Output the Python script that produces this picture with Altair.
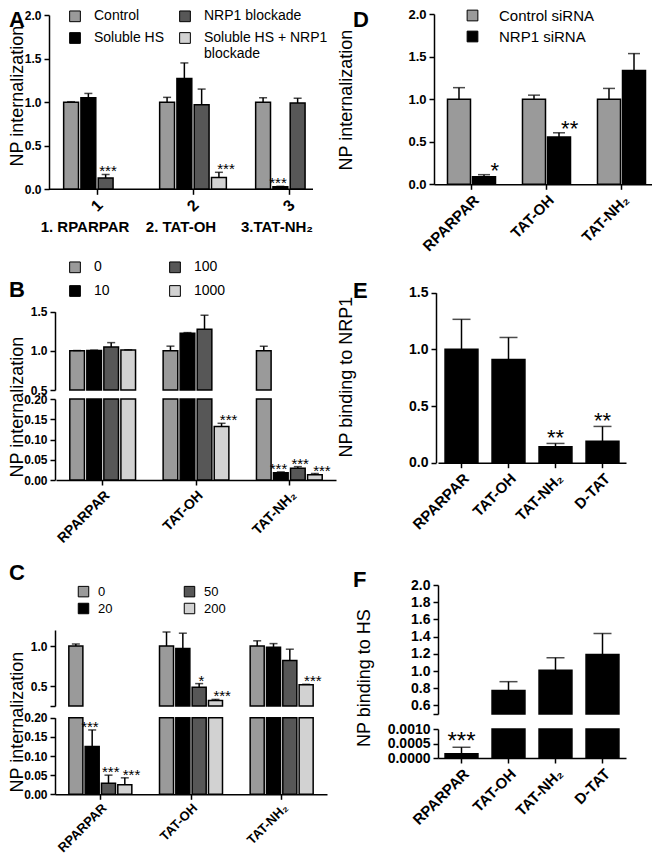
import altair as alt
import pandas as pd

FONT = "Liberation Sans"
W, H = 644, 848

# ---------------- data ----------------
A_categories = ["1", "2", "3"]
A_names = ["1. RPARPAR", "2. TAT-OH", "3.TAT-NH\u2082"]
A_series = ["Control", "Soluble HS", "NRP1 blockade", "Soluble HS + NRP1 blockade"]
A_mean = {
    "Control": [1.00, 1.00, 1.00],
    "Soluble HS": [1.05, 1.27, 0.03],
    "NRP1 blockade": [0.13, 0.97, 0.99],
    "Soluble HS + NRP1 blockade": [None, 0.135, None],
}
A_sem = {
    "Control": [0.005, 0.055, 0.05],
    "Soluble HS": [0.05, 0.18, 0.004],
    "NRP1 blockade": [0.04, 0.18, 0.055],
    "Soluble HS + NRP1 blockade": [None, 0.06, None],
}
A_sig = {
    "Control": ["", "", ""],
    "Soluble HS": ["", "", "***"],
    "NRP1 blockade": ["***", "", ""],
    "Soluble HS + NRP1 blockade": ["", "***", ""],
}

B_categories = ["RPARPAR", "TAT-OH", "TAT-NH\u2082"]
B_series = ["0", "10", "100", "1000"]
B_mean = {"0": [1.00, 1.00, 1.00], "10": [1.005, 1.225, 0.018],
          "100": [1.05, 1.275, 0.029], "1000": [1.01, 0.132, 0.013]}
B_sem = {"0": [0.004, 0.06, 0.06], "10": [0.004, 0.008, 0.002],
         "100": [0.055, 0.18, 0.004], "1000": [0.003, 0.008, 0.003]}
B_sig = {"0": ["", "", ""], "10": ["", "", "***"],
         "100": ["", "", "***"], "1000": ["", "***", "***"]}

C_categories = ["RPARPAR", "TAT-OH", "TAT-NH\u2082"]
C_series = ["0", "20", "50", "200"]
C_mean = {"0": [1.00, 1.00, 1.00], "20": [0.125, 0.97, 0.985],
          "50": [0.029, 0.485, 0.82], "200": [0.025, 0.32, 0.515]}
C_sem = {"0": [0.025, 0.175, 0.065], "20": [0.043, 0.19, 0.045],
         "50": [0.021, 0.045, 0.14], "200": [0.018, 0.012, 0.006]}
C_sig = {"0": ["", "", ""], "20": ["***", "", ""],
         "50": ["***", "*", ""], "200": ["***", "***", "***"]}

D_categories = ["RPARPAR", "TAT-OH", "TAT-NH\u2082"]
D_series = ["Control siRNA", "NRP1 siRNA"]
D_mean = {"Control siRNA": [1.00, 1.00, 1.00], "NRP1 siRNA": [0.088, 0.555, 1.335]}
D_sem = {"Control siRNA": [0.135, 0.047, 0.126], "NRP1 siRNA": [0.025, 0.05, 0.2]}
D_sig = {"Control siRNA": ["", "", ""], "NRP1 siRNA": ["*", "**", ""]}

E_categories = ["RPARPAR", "TAT-OH", "TAT-NH\u2082", "D-TAT"]
E_mean = [1.00, 0.91, 0.14, 0.19]
E_sem = [0.265, 0.195, 0.03, 0.13]
E_sig = ["", "", "**", "**"]

F_categories = ["RPARPAR", "TAT-OH", "TAT-NH\u2082", "D-TAT"]
F_mean = [0.00015, 0.772, 1.008, 1.193]
F_sem = [0.00022, 0.104, 0.146, 0.243]
F_sig = ["***", "", "", ""]

y_titles = ["NP internalization", "NP internalization", "NP internalization",
            "NP internalization", "NP binding to NRP1", "NP binding to HS"]
panel_letters = ["A", "B", "C", "D", "E", "F"]

GREY, BLACK, DARK, LIGHT = "#9a9a9a", "#000000", "#575757", "#d2d2d2"


def long_df(cats, series, mean, sem, sig):
    rows = []
    for s in series:
        for c, m, e, t in zip(cats, mean[s], sem[s], sig[s]):
            if m is None:
                continue
            rows.append({"cat": c, "series": s, "mean": m, "top": m + e, "sig": t})
    return pd.DataFrame(rows)


def single_df(cats, mean, sem, sig):
    return pd.DataFrame({"cat": cats, "mean": mean,
                         "top": [m + e for m, e in zip(mean, sem)], "sig": sig})


def panel(df, cats, xr, x_pad, segs, y_x, x_y, cap, sig_size, sig_dy, xaxis, ylab,
          series=None, fill_range=None, off_pad=0.14, legend=None, x_domain=True):
    layers = []
    xscale = alt.Scale(domain=cats, range=xr, paddingInner=x_pad, paddingOuter=x_pad / 2)
    off = {}
    if series is not None:
        off["xOffset"] = alt.XOffset("series:N", scale=alt.Scale(
            domain=series, paddingInner=off_pad, paddingOuter=off_pad / 2))
    for i, seg in enumerate(segs):
        lo, hi = seg["domain"]
        last = i == len(segs) - 1
        ysc = alt.Scale(domain=[lo, hi], range=seg["range"], clamp=True, nice=False, zero=False)
        ax_kw = dict(orient="left", offset=-y_x, values=seg["ticks"], format=seg["fmt"], title=None,
                     labelFontSize=ylab, labelFontWeight="bold")
        if seg.get("hide") is not None:
            ax_kw["labelExpr"] = f"datum.value == {seg['hide']} ? '' : datum.label"
        x_ax = None
        if last:
            x_ax = alt.Axis(orient="bottom", offset=x_y - H, title=None, domain=x_domain,
                            labelFontWeight="bold", **xaxis)
        enc = dict(x=alt.X("cat:N", scale=xscale, axis=x_ax),
                   y=alt.Y("mean:Q", scale=ysc, axis=alt.Axis(**ax_kw)),
                   y2=alt.Y2("base"), **off)
        src = alt.Chart(df).transform_filter(f"datum.mean > {lo}").transform_calculate(base=f"{lo}")
        if series is not None:
            enc["fill"] = alt.Fill("series:N", scale=alt.Scale(domain=series, range=fill_range),
                                   legend=legend if i == 0 else None)
            bar = src.mark_bar(stroke="black", strokeWidth=1.5).encode(**enc)
        else:
            bar = src.mark_bar(fill="black", stroke="black", strokeWidth=1.5).encode(**enc)
        layers.append(bar)

        inside = f"datum.mean >= {lo} && datum.mean < {hi}"
        xn = alt.X("cat:N", scale=xscale, axis=None)
        err_src = alt.Chart(df).transform_filter(inside + " && datum.top > datum.mean")
        layers.append(err_src.mark_rule(color="black", strokeWidth=1.5).encode(
            x=xn, y=alt.Y("mean:Q", scale=ysc, axis=None), y2=alt.Y2("top"), **off))
        layers.append(err_src.mark_tick(color="black", thickness=1.5, size=cap).encode(
            x=xn, y=alt.Y("top:Q", scale=ysc, axis=None), **off))
        layers.append(alt.Chart(df).transform_filter(inside + " && datum.sig != ''").mark_text(
            font=FONT, fontSize=sig_size, baseline="alphabetic", dy=sig_dy, fill="black").encode(
            x=xn, y=alt.Y("top:Q", scale=ysc, axis=None), text="sig:N", **off))
    return layers, xscale


def rot(size, pad=3):
    return dict(labelAngle=-45, labelAlign="right", labelBaseline="top", labelFontSize=size, labelPadding=pad)


def legend(x, y, cols, size, offset, colpad, rowpad, sym=115, expr=None):
    kw = dict(orient="none", legendX=x, legendY=y, columns=cols, title=None,
              symbolType="square", symbolSize=sym, symbolStrokeColor="black", symbolStrokeWidth=1,
              labelFont=FONT, labelFontSize=size, labelColor="black", labelOffset=offset,
              columnPadding=colpad, rowPadding=rowpad, labelLimit=400)
    if expr:
        kw["labelExpr"] = expr
    return alt.Legend(**kw)


FILL4 = [GREY, BLACK, DARK, LIGHT]
layers = []

# ---- A ----
legA = legend(60, 1, 2, 14, 12, 12, 6,
              expr="datum.label == 'Soluble HS + NRP1 blockade' ? ['Soluble HS + NRP1', 'blockade'] : datum.label")
la, xsA = panel(long_df(A_categories, A_series, A_mean, A_sem, A_sig), A_categories, [41, 329], 0.28,
                [{"domain": [0, 2], "range": [181.3, 7], "ticks": [0, 0.5, 1.0, 1.5, 2.0], "fmt": ".1f"}],
                41, 181.3, 8, 15, 2,
                dict(labelAngle=-45, labelAlign="center", labelBaseline="middle", labelFontSize=16, labelPadding=11),
                12, series=A_series, fill_range=FILL4, legend=legA, x_domain=False)
layers += la
layers.append(alt.Chart(pd.DataFrame({"v": [0]})).mark_rule(color="black", strokeWidth=1.5).encode(
    x=alt.value(41), x2=alt.value(305), y=alt.value(181.3)))
layers.append(alt.Chart(pd.DataFrame({"cat": A_categories, "name": A_names})).mark_text(
    font=FONT, fontSize=15, fontWeight="bold", dx=-12, fill="black").encode(
    x=alt.X("cat:N", scale=xsA, axis=None), y=alt.value(219), text="name:N"))

# ---- B ----
legB = legend(60, 252, 2, 14, 12, 57, 8)
lb, _ = panel(long_df(B_categories, B_series, B_mean, B_sem, B_sig), B_categories, [48, 328], 0.27,
              [{"domain": [0.5, 1.5], "range": [382, 303.7], "ticks": [0.5, 1.0, 1.5], "fmt": ".1f"},
               {"domain": [0, 0.2], "range": [472, 391], "ticks": [0, 0.05, 0.10, 0.15, 0.20], "fmt": ".2f"}],
              47, 472, 8, 15, 2, rot(14), 12, series=B_series, fill_range=FILL4, legend=legB)
layers += lb

# ---- C ----
legC = legend(69, 577, 2, 13, 8, 69, 2, sym=110)
lc, _ = panel(long_df(C_categories, C_series, C_mean, C_sem, C_sig), C_categories, [47, 319], 0.28,
              [{"domain": [0.25, 1.2], "range": [698, 622], "ticks": [0.25, 0.5, 1.0], "fmt": ".1f", "hide": 0.25},
               {"domain": [0, 0.2], "range": [786.3, 709.7], "ticks": [0, 0.05, 0.10, 0.15, 0.20], "fmt": ".2f"}],
              47, 786.3, 8, 15, 2, rot(13, 2), 12, series=C_series, fill_range=FILL4, legend=legC)
layers += lc

# ---- D ----
legD = legend(457, 0, 1, 15, 19, 10, 5)
ld, _ = panel(long_df(D_categories, D_series, D_mean, D_sem, D_sig), D_categories, [426, 651], 0.333,
              [{"domain": [0, 2], "range": [176.3, 6], "ticks": [0, 0.5, 1.0, 1.5, 2.0], "fmt": ".1f"}],
              426, 176.3, 12, 22, 3, rot(15), 13, series=D_series,
              fill_range=[GREY, BLACK], off_pad=0.08, legend=legD)
layers += ld

# ---- E ----
le, _ = panel(single_df(E_categories, E_mean, E_sem, E_sig), E_categories, [430, 618], 0.3,
              [{"domain": [0, 1.5], "range": [454.7, 284.7], "ticks": [0, 0.5, 1.0, 1.5], "fmt": ".1f"}],
              428, 454.7, 18, 22, 2, rot(15), 14)
layers += le

# ---- F ----
lf, _ = panel(single_df(F_categories, F_mean, F_sem, F_sig), F_categories, [430, 618], 0.3,
              [{"domain": [0.5, 2.0], "range": [706, 577],
                "ticks": [0.5, 0.6, 0.8, 1.0, 1.2, 1.4, 1.6, 1.8, 2.0], "fmt": ".1f", "hide": 0.5},
               {"domain": [0, 0.001], "range": [750, 721], "ticks": [0, 0.0005, 0.001], "fmt": ".4f"}],
              430, 750, 18, 24, 2, rot(15), 14)
layers += lf

# ---- y titles and panel letters ----
title_xy = [(10, 88), (10, 399), (10, 714), (339, 92), (339, 369), (357, 670)]
letter_xy = [(1, 2), (1, 272), (1, 555), (345, 2), (345, 273), (345, 562)]
for t, (tx, ty) in zip(y_titles, title_xy):
    layers.append(alt.Chart(pd.DataFrame({"t": [t]})).mark_text(
        font=FONT, fontSize=18, angle=270, align="center", baseline="middle", fill="black").encode(
        x=alt.value(tx), y=alt.value(ty), text="t:N"))
for t, (lx, ly) in zip(panel_letters, letter_xy):
    layers.append(alt.Chart(pd.DataFrame({"t": [t]})).mark_text(
        font=FONT, fontSize=22, fontWeight="bold", align="left", baseline="top", fill="black").encode(
        x=alt.value(lx), y=alt.value(ly), text="t:N"))

chart = alt.layer(*layers).resolve_scale(
    x="independent", y="independent", xOffset="independent", fill="independent"
).properties(
    width=W, height=H, padding=0, autosize=alt.AutoSizeParams(type="none")
).configure_view(stroke=None).configure_axis(
    domainColor="black", domainWidth=1.5, tickColor="black", tickWidth=1.5, tickSize=5,
    labelColor="black", labelFont=FONT, labelFontWeight="bold", labelFontSize=13,
    titleFont=FONT, titleFontSize=18, titleFontWeight="normal", titleColor="black",
    grid=False, labelPadding=3, labelOverlap=False
)

chart.save("out.html", embed_options={"renderer": "svg", "actions": False})
